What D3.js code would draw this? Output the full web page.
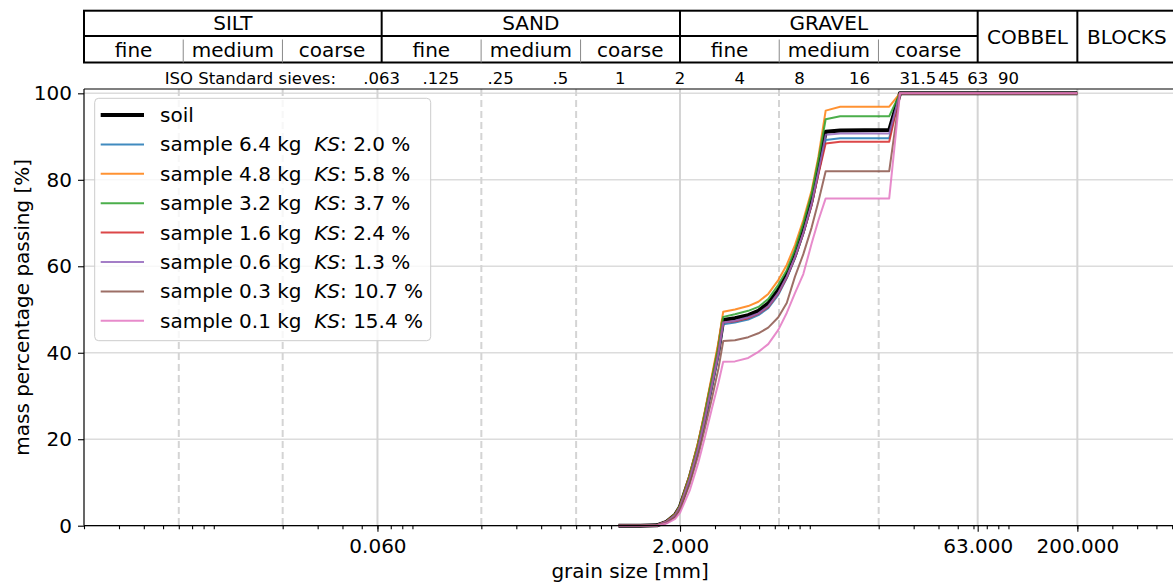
<!DOCTYPE html>
<html><head><meta charset="utf-8">
<script src="https://cdn.jsdelivr.net/npm/d3@7"></script>
<style>body{margin:0;background:#fff;} svg{display:block;font-family:"DejaVu Sans",sans-serif;}</style>
</head><body><svg id="c" width="1173" height="583"></svg>
<script>
// ---------------- data ----------------
const grainSize = [0.98, 1.26, 1.53, 1.71, 1.89, 2.0, 2.245, 2.47, 2.67, 2.89, 3.12, 3.30, 3.78, 4.41, 4.96, 5.56, 6.25, 6.89, 7.58, 8.35, 9.20, 9.94, 10.82, 12.8, 22.6, 25.6, 200];
const soil   = [0,0,0.1,0.9,2.5,4.4,11.3,18.3,25.2,32.9,40.5, 47.6,48.0,48.7,49.7,51.4,54.5,58.0,62.6,68.4,75.3,82.7,91.1,91.4, 91.5,100,100];
const s64    = [0,0,0.1,0.9,2.4,4.2,10.8,17.6,24.4,31.9,39.4, 46.6,47.0,47.7,48.7,50.3,53.4,57.2,61.8,67.5,74.2,81.5,89.2,89.6, 89.6,100,100];
const s48    = [0,0,0.1,1.0,2.7,4.7,12.0,19.4,26.6,34.6,42.4, 49.5,50.0,50.8,51.8,53.6,56.8,60.3,64.9,70.7,77.6,85.3,96.0,96.9, 96.9,100,100];
const s32    = [0,0,0.1,0.95,2.6,4.6,11.6,18.8,25.9,33.7,41.3, 48.3,48.9,49.7,50.6,52.4,55.7,59.1,63.8,69.9,76.9,84.6,94.0,94.7, 94.7,100,100];
const s16    = [0,0,0.1,0.9,2.4,4.3,11.0,17.9,24.8,32.4,39.9, 47.0,47.3,48.0,49.0,50.6,53.7,57.4,62.0,67.6,74.2,81.2,88.4,88.8, 88.8,100,100];
const s06    = [0,0,0.1,0.9,2.4,4.3,11.0,17.9,24.8,32.4,39.9, 47.0,47.4,48.2,49.1,50.8,53.9,57.6,62.2,67.8,74.6,81.9,90.4,90.7, 90.7,100,100];
const s03    = [0,0,0.05,0.7,2.0,3.8,9.8,16.3,22.6,29.3,36.3, 42.7,42.9,43.6,44.5,45.8,48.2,51.5,57.6,62.8,69.0,74.9,82.0,82.0, 82.0,100,100];
const s01    = [0,0,0,0.5,1.6,3.0,8.3,14.5,20.5,27.0,33.0, 37.9,38.0,38.8,40.2,42.0,45.3,49.2,53.8,58.2,65.3,70.6,75.7,75.7, 75.7,100,100];
const sampleMass = ["6.4","4.8","3.2","1.6","0.6","0.3","0.1"];
const sampleKS   = ["2.0","5.8","3.7","2.4","1.3","10.7","15.4"];
const samples    = [s64, s48, s32, s16, s06, s03, s01];

const xMajorTicks = [0.06, 2, 63, 200];
const xMajorLabels = ["0.060", "2.000", "63.000", "200.000"];
const yTicks = [0, 20, 40, 60, 80, 100];
const dashedGrid = [0.006, 0.02, 0.2, 0.6, 6.3, 20];
const sieves = [0.063, 0.125, 0.25, 0.5, 1, 2, 4, 8, 16, 31.5, 45, 63, 90];
const sieveLabels = [".063", ".125", ".25", ".5", "1", "2", "4", "8", "16", "31.5", "45", "63", "90"];
const fractions = ["SILT", "SAND", "GRAVEL", "COBBEL", "BLOCKS"];
const fractionBounds = [0.002, 0.063, 2, 63, 200, 630];
const subNames = ["fine", "medium", "coarse"];

// ---------------- style ----------------
const colors = ["#1f77b4","#ff7f0e","#2ca02c","#d62728","#9467bd","#8c564b","#e377c2"];
const L = 84, T = 89, B = 525.7;
const pxPerDecade = 198.67;
const FS = 20;

const svg = d3.select("#c");
svg.append("rect").attr("width",1173).attr("height",583).attr("fill","#fff");

const xDomain = [0.002, 630];
const x = d3.scaleLog().domain(xDomain)
  .range([L, L + pxPerDecade * Math.log10(xDomain[1]/xDomain[0])]);
const R = x.range()[1];
const y = d3.scaleLinear().domain([0, 101]).range([B, T]);

// grid
const g = svg.append("g");
g.selectAll(".hg").data(yTicks).join("line")
  .attr("x1", L).attr("x2", R).attr("y1", d=>y(d)).attr("y2", d=>y(d))
  .attr("stroke", "#dcdcdc").attr("stroke-width", 1.5);
g.selectAll(".vg").data(xMajorTicks).join("line")
  .attr("x1", d=>x(d)).attr("x2", d=>x(d)).attr("y1", T).attr("y2", B)
  .attr("stroke", "#d4d4d4").attr("stroke-width", 2);
g.selectAll(".dg").data(dashedGrid).join("line")
  .attr("x1", d=>x(d)).attr("x2", d=>x(d)).attr("y1", T).attr("y2", B)
  .attr("stroke", "#d4d4d4").attr("stroke-width", 2).attr("stroke-dasharray", "7,4");

// curves
const line = d3.line().x((d,i)=>x(grainSize[i])).y(d=>y(d));
svg.append("path").attr("d", line(soil)).attr("fill","none")
  .attr("stroke","#000").attr("stroke-width",4).attr("stroke-linejoin","round");
samples.forEach((s,k)=>{
  svg.append("path").attr("d", line(s)).attr("fill","none")
    .attr("stroke", colors[k]).attr("stroke-opacity",0.85).attr("stroke-width",2).attr("stroke-linejoin","round");
});

// axes
const minorTicks = [];
for (let e=-3; e<=2; e++) for (let k=2; k<=9; k++) { const v = k*Math.pow(10,e); if (v>=xDomain[0] && v<=xDomain[1]) minorTicks.push(v); }
const xAxisMinor = d3.axisBottom(x).tickValues(minorTicks).tickSize(3.5).tickFormat("");
const xAxisMajor = d3.axisBottom(x).tickValues(xMajorTicks).tickSize(6).tickPadding(7).tickFormat((d,i)=>xMajorLabels[i]);
const ax1 = svg.append("g").attr("transform",`translate(0,${B})`).call(xAxisMinor);
const ax2 = svg.append("g").attr("transform",`translate(0,${B})`).call(xAxisMajor);
const ay = svg.append("g").attr("transform",`translate(${L},0)`).call(d3.axisLeft(y).tickValues(yTicks).tickSize(6).tickPadding(6));
[ax1,ax2,ay].forEach(a=>{
  a.selectAll(".domain").attr("stroke","#000").attr("stroke-width",1.2);
  a.selectAll(".tick line").attr("stroke","#000").attr("stroke-width",1.1);
  a.selectAll("text").attr("font-family","DejaVu Sans").attr("font-size",FS).attr("fill","#000");
});
ax1.select(".domain").remove();
ax2.select(".domain").attr("d", `M${L},0H${R}`);
ay.select(".domain").attr("d", `M0,${B}V${T}`);
// top spine
svg.append("line").attr("x1",L).attr("x2",R).attr("y1",T).attr("y2",T).attr("stroke","#000").attr("stroke-width",1.2);

svg.append("text").attr("x",(L+R)/2).attr("y",578).attr("text-anchor","middle")
  .attr("font-size",FS).text("grain size [mm]");
svg.append("text").attr("transform",`translate(29,${(T+B)/2}) rotate(-90)`).attr("text-anchor","middle")
  .attr("font-size",FS).text("mass percentage passing [%]");

// legend
const lg = svg.append("g");
lg.append("rect").attr("x",94.7).attr("y",98.3).attr("width",336).attr("height",242.4).attr("rx",4)
  .attr("fill","#fff").attr("fill-opacity",0.8).attr("stroke","#cccccc").attr("stroke-width",1);
const rowY = i => 115 + i*29.4;
lg.append("line").attr("x1",100.7).attr("x2",144).attr("y1",rowY(0)).attr("y2",rowY(0)).attr("stroke","#000").attr("stroke-width",4);
lg.append("text").attr("x",160).attr("y",rowY(0)).attr("dy","0.35em").attr("font-size",FS).text("soil");
sampleMass.forEach((m,i)=>{
  const yy = rowY(i+1);
  lg.append("line").attr("x1",100.7).attr("x2",144).attr("y1",yy).attr("y2",yy)
    .attr("stroke",colors[i]).attr("stroke-opacity",0.85).attr("stroke-width",2);
  const t = lg.append("text").attr("x",160).attr("y",yy).attr("dy","0.35em").attr("font-size",FS).attr("xml:space","preserve");
  t.append("tspan").text(`sample ${m} kg  `);
  t.append("tspan").attr("font-style","italic").text("KS");
  t.append("tspan").text(`: ${sampleKS[i]} %`);
});

// classification table
const tTop = 10.7, tMid = 36, tBot = 62.5;
const tb = svg.append("g");
tb.append("rect").attr("x",L).attr("y",tTop).attr("width",R-L).attr("height",tBot-tTop)
  .attr("fill","none").attr("stroke","#000").attr("stroke-width",2);
tb.append("line").attr("x1",L).attr("x2",x(63)).attr("y1",tMid).attr("y2",tMid).attr("stroke","#000").attr("stroke-width",2);
fractionBounds.slice(1,-1).forEach(b=>{
  tb.append("line").attr("x1",x(b)).attr("x2",x(b)).attr("y1",tTop).attr("y2",tBot).attr("stroke","#000").attr("stroke-width",2);
});
fractions.forEach((f,i)=>{
  const a = fractionBounds[i], b = fractionBounds[i+1];
  const cx = (x(a)+x(b))/2;
  if (i < 3) {
    tb.append("text").attr("x",cx).attr("y",30).attr("text-anchor","middle").attr("font-size",FS).text(f);
    const la = Math.log10(a), lb = Math.log10(b);
    const subs = [a, Math.pow(10, la + (lb-la)/3), Math.pow(10, la + 2*(lb-la)/3), b];
    subNames.forEach((s,j)=>{
      const sx = (x(subs[j])+x(subs[j+1]))/2;
      tb.append("text").attr("x",sx).attr("y",56.5).attr("text-anchor","middle").attr("font-size",FS).text(s);
      if (j>0) tb.append("line").attr("x1",x(subs[j])).attr("x2",x(subs[j])).attr("y1",39.5).attr("y2",tBot)
        .attr("stroke","#888").attr("stroke-width",1);
    });
  } else {
    tb.append("text").attr("x",cx).attr("y",43.5).attr("text-anchor","middle").attr("font-size",FS).text(f);
  }
});
// sieves row
svg.append("text").attr("x",336).attr("y",84).attr("text-anchor","end").attr("font-size",16.5).text("ISO Standard sieves:");
svg.selectAll(".sv").data(sieves).join("text")
  .attr("x", d=>x(d)).attr("y",84).attr("text-anchor","middle").attr("font-size",16.5)
  .text((d,i)=>sieveLabels[i]);
</script></body></html>
